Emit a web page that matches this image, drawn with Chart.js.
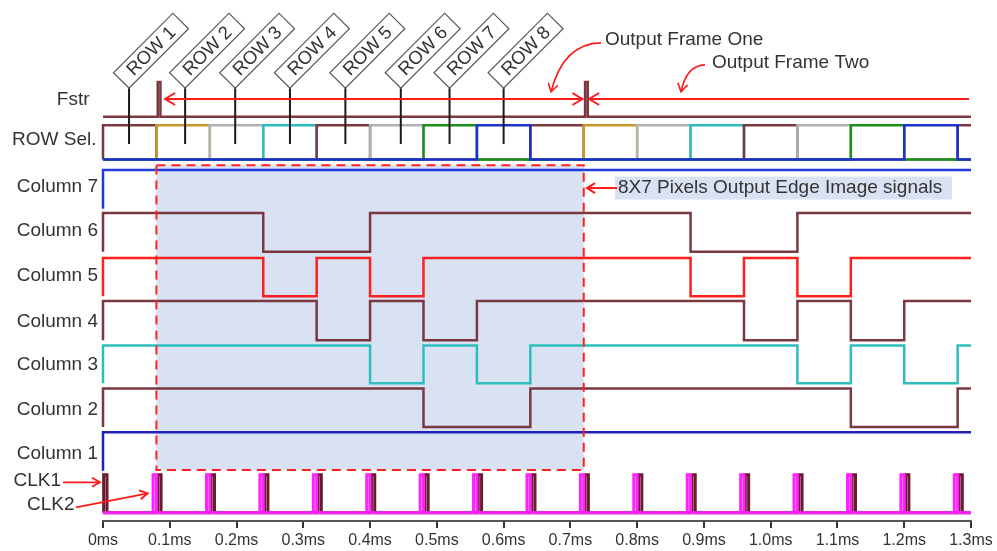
<!DOCTYPE html>
<html>
<head>
<meta charset="utf-8">
<script src="https://cdn.jsdelivr.net/npm/chart.js@4.4.1/dist/chart.umd.min.js"></script>
<style>
  html, body { margin: 0; padding: 0; background: #fff; }
  canvas { display: block; }
</style>
</head>
<body>
<canvas id="timing" width="997" height="551"></canvas>
<script>
// ---- Time axis (ms) ----
const tickLabels = ['0ms','0.1ms','0.2ms','0.3ms','0.4ms','0.5ms','0.6ms','0.7ms','0.8ms','0.9ms','1.0ms','1.1ms','1.2ms','1.3ms'];
const timeEnd = 1.3;

// ---- Signal edges (ms). Each signal starts low and toggles at every listed time ----
const fstrEdges = [0.082, 0.086, 0.722, 0.726];

const row1Edges = [0, 0.08, 0.64, 0.72, 1.28];
const row2Edges = [0.08, 0.16, 0.72, 0.80];
const row3Edges = [0.16, 0.24, 0.80, 0.88];
const row4Edges = [0.24, 0.32, 0.88, 0.96];
const row5Edges = [0.32, 0.40, 0.96, 1.04];
const row6Edges = [0.40, 0.48, 1.04, 1.12];
const row7Edges = [0.48, 0.56, 1.12, 1.20];
const row8Edges = [0.56, 0.64, 1.20, 1.28];

const col7Edges = [0];
const col6Edges = [0, 0.24, 0.40, 0.88, 1.04];
const col5Edges = [0, 0.24, 0.32, 0.40, 0.48, 0.88, 0.96, 1.04, 1.12];
const col4Edges = [0, 0.32, 0.40, 0.48, 0.56, 0.96, 1.04, 1.12, 1.20];
const col3Edges = [0, 0.40, 0.48, 0.56, 0.64, 1.04, 1.12, 1.20, 1.28];
const col2Edges = [0, 0.48, 0.64, 1.12, 1.28];
const col1Edges = [0];

// Clock pulses: rise / fall times (ms)
const clk1Edges = [0.001,0.006, 0.082,0.087, 0.162,0.167, 0.242,0.247, 0.322,0.327, 0.402,0.407, 0.482,0.487, 0.562,0.567,
                   0.642,0.647, 0.722,0.727, 0.802,0.807, 0.882,0.887, 0.962,0.967, 1.042,1.047, 1.122,1.127, 1.202,1.207, 1.282,1.287];
const clk2Edges = [0.075,0.080, 0.155,0.160, 0.235,0.240, 0.315,0.320, 0.395,0.400, 0.475,0.480, 0.555,0.560, 0.635,0.640,
                   0.715,0.720, 0.795,0.800, 0.875,0.880, 0.955,0.960, 1.035,1.040, 1.115,1.120, 1.195,1.200, 1.275,1.280];

// Row tags above the select lines
const rowTags = ['ROW 1','ROW 2','ROW 3','ROW 4','ROW 5','ROW 6','ROW 7','ROW 8'];
const rowTagTimes = [0.039, 0.123, 0.198, 0.280, 0.363, 0.446, 0.519, 0.600];

// Output frame window (ms)
const frameStart = 0.08;
const frameEnd = 0.72;

// ---- Layout: vertical lanes [low, high] on the hidden y scale ----
const LANE = {
  fstr:  [9.19, 9.98],
  row:   [8.22, 9.00],
  col7:  [7.10, 7.98],
  col6:  [6.12, 7.00],
  col5:  [5.11, 5.98],
  col4:  [4.11, 5.00],
  col3:  [3.13, 3.99],
  col2:  [2.14, 3.01],
  col1:  [1.14, 2.02],
  clk:   [0.19, 1.05]
};

const FONT = '"Liberation Sans", Arial, sans-serif';
const C = {
  maroon: '#7a3940', clkDark: '#6a1c2c', red: '#ff1f1f', teal: '#2ebdbd',
  blue7: '#1f3be0', blue1: '#2121b5', magenta: '#ff22ff',
  gold: '#c9982e', gray: '#b2b2b2', green: '#1a8f1a', rowBlue: '#1d2fcf',
  shade: '#d9e2f2', text: '#333333'
};

function wave(edges, lane) {
  const [lo, hi] = lane;
  let lvl = 0;
  const pts = [{ x: 0, y: lo }];
  edges.forEach(t => { lvl ^= 1; pts.push({ x: t, y: lvl ? hi : lo }); });
  pts.push({ x: timeEnd, y: lvl ? hi : lo });
  return pts;
}

function sig(label, edges, lane, color, order, width) {
  return {
    label, data: wave(edges, lane), borderColor: color, borderWidth: width || 2.5,
    stepped: true, pointRadius: 0, fill: false, order, clip: false,
    borderJoinStyle: 'miter', borderCapStyle: 'butt'
  };
}

const datasets = [
  sig('Fstr', fstrEdges, LANE.fstr, C.maroon, 20, 2.5),
  sig('ROW 8', row8Edges, LANE.row, C.rowBlue, 1),
  sig('ROW 7', row7Edges, LANE.row, C.green, 2),
  sig('ROW 6', row6Edges, LANE.row, C.gray, 3),
  sig('ROW 5', row5Edges, LANE.row, C.maroon, 4),
  sig('ROW 4', row4Edges, LANE.row, C.teal, 5),
  sig('ROW 3', row3Edges, LANE.row, C.gray, 6),
  sig('ROW 2', row2Edges, LANE.row, C.gold, 7),
  sig('ROW 1', row1Edges, LANE.row, C.maroon, 8),
  sig('Column 7', col7Edges, LANE.col7, C.blue7, 20),
  sig('Column 6', col6Edges, LANE.col6, C.maroon, 20),
  sig('Column 5', col5Edges, LANE.col5, C.red, 20),
  sig('Column 4', col4Edges, LANE.col4, C.maroon, 20),
  sig('Column 3', col3Edges, LANE.col3, C.teal, 20),
  sig('Column 2', col2Edges, LANE.col2, C.maroon, 20),
  sig('Column 1', col1Edges, LANE.col1, C.blue1, 20),
  sig('CLK1', clk1Edges, LANE.clk, C.clkDark, 22, 3),
  sig('CLK2', clk2Edges, LANE.clk, C.magenta, 21, 3)
];

// Lane names on the left: [text, right edge px, y value]
const laneNames = [
  ['Fstr', 89.5, 9.57], ['ROW Sel.', 96.5, 8.66], ['Column 7', 98, 7.60], ['Column 6', 98, 6.60],
  ['Column 5', 98, 5.58], ['Column 4', 98, 4.53], ['Column 3', 98, 3.55], ['Column 2', 98, 2.54],
  ['Column 1', 98, 1.52]
];

function chevron(ctx, tipX, tipY, angle, len, half) {
  ctx.save();
  ctx.translate(tipX, tipY);
  ctx.rotate(angle);
  ctx.beginPath();
  ctx.moveTo(-len, -half);
  ctx.lineTo(0, 0);
  ctx.lineTo(-len, half);
  ctx.stroke();
  ctx.restore();
}

const shadePlugin = {
  id: 'frameShade',
  beforeDatasetsDraw(chart) {
    const { ctx, scales: { x, y } } = chart;
    const l = x.getPixelForValue(frameStart), r = x.getPixelForValue(frameEnd);
    const t = y.getPixelForValue(8.09), b = y.getPixelForValue(1.16);
    ctx.save();
    ctx.fillStyle = C.shade;
    ctx.fillRect(l, t, r - l, b - t);
    ctx.restore();
  }
};

const overlayPlugin = {
  id: 'overlay',
  afterDatasetsDraw(chart) {
    const { ctx, scales: { x, y } } = chart;
    const X = v => x.getPixelForValue(v), Y = v => y.getPixelForValue(v);
    ctx.save();

    // dashed frame outline
    const l = X(frameStart), r = X(frameEnd), t = Y(8.09), b = Y(1.16);
    ctx.strokeStyle = '#ff2020';
    ctx.lineWidth = 2;
    ctx.setLineDash([9, 6]);
    ctx.strokeRect(l, t, r - l, b - t);
    ctx.setLineDash([]);

    // row tag stems
    ctx.strokeStyle = '#1a1a1a';
    ctx.lineWidth = 2;
    rowTagTimes.forEach(tm => {
      ctx.beginPath();
      ctx.moveTo(X(tm), Y(9.84));
      ctx.lineTo(X(tm), Y(8.57));
      ctx.stroke();
    });

    // row tag boxes (rotated)
    rowTagTimes.forEach((tm, i) => {
      ctx.save();
      ctx.translate(X(tm), Y(9.84));
      ctx.rotate(-Math.PI / 4);
      ctx.fillStyle = '#fff';
      ctx.fillRect(0, -22, 84, 22);
      ctx.strokeStyle = '#555';
      ctx.lineWidth = 1.2;
      ctx.strokeRect(0, -22, 84, 22);
      ctx.fillStyle = C.text;
      ctx.font = '18.5px ' + FONT;
      ctx.textAlign = 'center';
      ctx.textBaseline = 'middle';
      ctx.fillText(rowTags[i], 42, -10);
      ctx.restore();
    });

    // output frame arrows
    ctx.strokeStyle = '#ff1a1a';
    ctx.lineWidth = 2;
    const ay = Y(9.595);
    ctx.beginPath();
    ctx.moveTo(X(0.093), ay); ctx.lineTo(X(0.718), ay);
    ctx.moveTo(X(0.728), ay); ctx.lineTo(X(1.297), ay);
    ctx.stroke();
    chevron(ctx, X(0.093), ay, Math.PI, 10, 6);
    chevron(ctx, X(0.718), ay, 0, 10, 6);
    chevron(ctx, X(0.728), ay, Math.PI, 10, 6);

    // curved callout arrows
    const curve = (sx, sy, cx, cy, ex, ey) => {
      ctx.beginPath();
      ctx.moveTo(X(sx), Y(sy));
      ctx.quadraticCurveTo(X(cx), Y(cy), X(ex), Y(ey));
      ctx.stroke();
      const ang = Math.atan2(Y(ey) - Y(cy), X(ex) - X(cx));
      chevron(ctx, X(ex), Y(ey), ang, 8, 5);
    };
    ctx.lineWidth = 1.6;
    curve(0.7458, 10.87, 0.690, 10.86, 0.671, 9.76);
    curve(0.9016, 10.37, 0.874, 10.36, 0.8657, 9.76);

    // texts
    ctx.fillStyle = C.text;
    ctx.font = '19px ' + FONT;
    ctx.textBaseline = 'middle';
    ctx.textAlign = 'left';
    ctx.fillText('Output Frame One', X(0.7518), Y(10.94));
    ctx.fillText('Output Frame Two', X(0.912), Y(10.41));

    // frame content label
    const bx = X(0.767), bw = X(1.2716) - bx, bcy = Y(7.57);
    ctx.fillStyle = C.shade;
    ctx.fillRect(bx, bcy - 11.5, bw, 23);
    ctx.fillStyle = C.text;
    ctx.fillText('8X7 Pixels Output Edge Image signals', X(0.7713), bcy);
    ctx.strokeStyle = '#ff1a1a';
    ctx.lineWidth = 2;
    ctx.beginPath();
    ctx.moveTo(bx + 2, bcy); ctx.lineTo(X(0.7249), bcy);
    ctx.stroke();
    chevron(ctx, X(0.7249), bcy, Math.PI, 8, 5);

    // lane names
    ctx.fillStyle = C.text;
    ctx.textAlign = 'right';
    laneNames.forEach(([txt, rx, yv]) => ctx.fillText(txt, rx, Y(yv)));
    ctx.textAlign = 'left';
    ctx.fillText('CLK1', 13.5, Y(0.91));
    ctx.fillText('CLK2', 27, Y(0.36));

    // clock callout arrows
    ctx.strokeStyle = '#ff1a1a';
    ctx.lineWidth = 1.8;
    const c1y = Y(0.88);
    ctx.beginPath(); ctx.moveTo(63, c1y); ctx.lineTo(100, c1y); ctx.stroke();
    chevron(ctx, 100, c1y, 0, 8, 4.5);
    const sx = 76, sy = Y(0.31), ex = X(0.067), ey = Y(0.63);
    ctx.beginPath(); ctx.moveTo(sx, sy); ctx.lineTo(ex, ey); ctx.stroke();
    chevron(ctx, ex, ey, Math.atan2(ey - sy, ex - sx), 8, 4.5);

    ctx.restore();
  }
};

new Chart(document.getElementById('timing'), {
  type: 'line',
  data: { datasets },
  options: {
    responsive: false,
    devicePixelRatio: 1,
    animation: false,
    events: [],
    layout: { padding: { left: 103, right: 26, top: 2, bottom: 0 } },
    plugins: { legend: { display: false }, tooltip: { enabled: false } },
    scales: {
      x: {
        type: 'linear', min: 0, max: timeEnd,
        afterFit(s) { s.height = 30; },
        border: { display: true, color: '#555', width: 2 },
        grid: { drawOnChartArea: false, drawTicks: true, tickLength: 7, color: '#333', lineWidth: 2 },
        ticks: {
          stepSize: 0.1, autoSkip: false, maxRotation: 0, padding: 3, color: C.text,
          font: { family: FONT, size: 16 },
          callback: (v, i) => tickLabels[i] ?? ''
        }
      },
      y: { display: false, min: 0, max: 11.8 }
    }
  },
  plugins: [shadePlugin, overlayPlugin]
});
</script>
</body>
</html>
